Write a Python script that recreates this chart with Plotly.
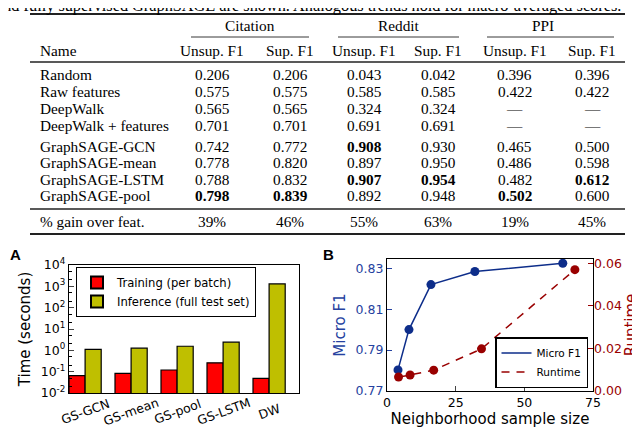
import plotly.graph_objects as go

# ---- table data ----
caption = "and fully supervised GraphSAGE are shown. Analogous trends hold for macro-averaged scores."
groups = ["Citation", "Reddit", "PPI"]
sub_headers = ["Unsup. F1", "Sup. F1", "Unsup. F1", "Sup. F1", "Unsup. F1", "Sup. F1"]
methods = ["Random", "Raw features", "DeepWalk", "DeepWalk + features",
           "GraphSAGE-GCN", "GraphSAGE-mean", "GraphSAGE-LSTM", "GraphSAGE-pool"]
scores = [
    [0.206, 0.206, 0.043, 0.042, 0.396, 0.396],
    [0.575, 0.575, 0.585, 0.585, 0.422, 0.422],
    [0.565, 0.565, 0.324, 0.324, None, None],
    [0.701, 0.701, 0.691, 0.691, None, None],
    [0.742, 0.772, 0.908, 0.930, 0.465, 0.500],
    [0.778, 0.820, 0.897, 0.950, 0.486, 0.598],
    [0.788, 0.832, 0.907, 0.954, 0.482, 0.612],
    [0.798, 0.839, 0.892, 0.948, 0.502, 0.600],
]
best = [(4, 2), (6, 2), (6, 3), (6, 5), (7, 0), (7, 1), (7, 4)]
gain_label = "% gain over feat."
gains = ["39%", "46%", "55%", "63%", "19%", "45%"]

# ---- panel A data ----
models = ["GS-GCN", "GS-mean", "GS-pool", "GS-LSTM", "DW"]
train_time = [0.065, 0.083, 0.12, 0.26, 0.049]
infer_time = [1.12, 1.26, 1.55, 2.4, 1300]
log_ticks = [0.01, 0.1, 1, 10, 100, 1000, 10000]
log_labels = ["10<sup>-2</sup>", "10<sup>-1</sup>", "10<sup>0</sup>", "10<sup>1</sup>",
              "10<sup>2</sup>", "10<sup>3</sup>", "10<sup>4</sup>"]

# ---- panel B data ----
sample_size = [4, 8, 16, 32, 64]
micro_f1 = [0.7803, 0.800, 0.822, 0.8284, 0.8324]
runtime_size = [4.2, 8.4, 17, 34.4, 68.4]
runtime = [0.0066, 0.0075, 0.0098, 0.0198, 0.057]

# page body has an 8px margin, so the figure fills the rest of the window
OFF = 8
W, H = 640 - OFF, 429 - OFF
BLUE = "#0d2d8a"
BLUE_TXT = "#2542a0"
RED = "#990000"
SERIF = "Liberation Serif"
SANS = "DejaVu Sans"


def px(x):
    # window pixel -> paper
    return (x - OFF) / W


def py(y):
    return 1 - (y - OFF) / H


fig = go.Figure()


def cell(text, x, y, anchor="center", size=15.3):
    fig.add_annotation(text=text, xref="paper", yref="paper", x=px(x), y=py(y),
                       xanchor=anchor, yanchor="middle", showarrow=False,
                       font=dict(family=SERIF, size=size, color="black"))


# ---------- table ----------
name_x = 38
col_x = [212, 290, 364, 438, 515, 592]
group_x = [250, 399, 543]
group_y, head_y = 25, 50
row_y = [75, 91.5, 108, 125, 146, 162.5, 179, 195.5]
gain_y = 221

for g, gx in zip(groups, group_x):
    cell(g, gx, group_y)
cell("Name", name_x, head_y, "left")
for h, cx in zip(sub_headers, col_x):
    cell(h, cx, head_y)
for i, m in enumerate(methods):
    cell(m, name_x, row_y[i], "left")
    for j, cx in enumerate(col_x):
        v = scores[i][j]
        s = "—" if v is None else f"{v:.3f}"
        if (i, j) in best:
            s = f"<b>{s}</b>"
        cell(s, cx, row_y[i])
cell(gain_label, name_x, gain_y, "left")
for g, cx in zip(gains, col_x):
    cell(g, cx, gain_y)

rules = [(30, 625, 14, 2.2), (30, 625, 62, 1.4), (30, 625, 209, 1.4), (30, 625, 234, 2.2),
         (191, 309, 37, 0.9), (338, 459, 37, 0.9), (487, 614, 37, 0.9)]
for x0, x1, y, w in rules:
    fig.add_shape(type="line", xref="paper", yref="paper",
                  x0=px(x0), x1=px(x1), y0=py(y), y1=py(y),
                  line=dict(color="#222222", width=w))

fig.add_annotation(text=caption, xref="paper", yref="paper", x=px(623), y=py(6),
                   xanchor="right", yanchor="middle", showarrow=False,
                   font=dict(family=SERIF, size=16.3, color="black"))

# ---------- panel A ----------
fig.add_trace(go.Bar(x=models, y=train_time, name="Training (per batch)",
                     marker=dict(color="#ff0000", line=dict(color="black", width=1.2)),
                     xaxis="x", yaxis="y", legend="legend"))
fig.add_trace(go.Bar(x=models, y=infer_time, name="Inference (full test set)",
                     marker=dict(color="#bfbf00", line=dict(color="black", width=1.2)),
                     xaxis="x", yaxis="y", legend="legend"))
for m in models:
    fig.add_annotation(text=m, xref="x", yref="paper", x=m, y=py(411),
                       xanchor="center", yanchor="middle", textangle=-20, showarrow=False,
                       font=dict(family=SANS, size=12.5, color="black"))

# ---------- panel B ----------
fig.add_trace(go.Scatter(x=sample_size, y=micro_f1, mode="lines", name="Micro F1",
                         line=dict(color=BLUE, width=1.5),
                         xaxis="x2", yaxis="y2", legend="legend2"))
fig.add_trace(go.Scatter(x=sample_size, y=micro_f1, mode="markers", showlegend=False,
                         marker=dict(color=BLUE, size=9), cliponaxis=False,
                         xaxis="x2", yaxis="y2"))
fig.add_trace(go.Scatter(x=runtime_size, y=runtime, mode="lines", name="Runtime",
                         line=dict(color=RED, width=1.5, dash="8px,7px"),
                         xaxis="x2", yaxis="y3", legend="legend2"))
fig.add_trace(go.Scatter(x=runtime_size, y=runtime, mode="markers", showlegend=False,
                         marker=dict(color=RED, size=9), cliponaxis=False,
                         xaxis="x2", yaxis="y3"))

for letter, x in [("A", 15), ("B", 328)]:
    fig.add_annotation(text=f"<b>{letter}</b>", xref="paper", yref="paper",
                       x=px(x), y=py(255), xanchor="center", yanchor="middle",
                       showarrow=False,
                       font=dict(family="Liberation Sans", size=15, color="black"))

frame = dict(showline=True, linecolor="black", linewidth=1.3, mirror=True,
             showgrid=False, zeroline=False, automargin=False)

fig.update_layout(
    width=W, height=H, margin=dict(l=0, r=0, t=0, b=0, autoexpand=False),
    paper_bgcolor="white", plot_bgcolor="rgba(0,0,0,0)",
    barmode="group", bargap=0.3, bargroupgap=0,
    font=dict(family=SANS, size=12, color="black"),
    xaxis=dict(domain=[px(69), px(299)], range=[-0.35, 4.65],
               showticklabels=False, ticks="", **frame),
    yaxis=dict(domain=[py(393), py(265)], type="log", range=[-2, 4],
               tickvals=log_ticks, ticktext=log_labels, ticks="inside", ticklen=5,
               tickfont=dict(size=12.5),
               minor=dict(ticks="inside", ticklen=2.5, tickcolor="black", showgrid=False),
               title=dict(text="Time (seconds)", font=dict(size=15), standoff=6),
               **frame),
    xaxis2=dict(domain=[px(387), px(593)], range=[0, 75], tickvals=[0, 25, 50, 75],
                ticks="inside", ticklen=5, anchor="y2", tickfont=dict(size=12.5),
                title=dict(text="Neighborhood sample size", font=dict(size=15), standoff=4),
                **frame),
    yaxis2=dict(domain=[py(391), py(259)], range=[0.77, 0.8345], anchor="x2",
                tickvals=[0.77, 0.79, 0.81, 0.83], tickformat=".2f",
                ticks="inside", ticklen=5, tickcolor=BLUE_TXT,
                tickfont=dict(size=12.5, color=BLUE_TXT),
                title=dict(text="Micro F1", font=dict(size=15, color=BLUE_TXT), standoff=6),
                **frame),
    yaxis3=dict(overlaying="y2", side="right", anchor="x2", range=[0, 0.062],
                tickvals=[0, 0.02, 0.04, 0.06], tickformat=".2f",
                ticks="inside", ticklen=5, tickcolor=RED,
                tickfont=dict(size=12.5, color=RED),
                title=dict(text="Runtime", font=dict(size=15, color=RED), standoff=6),
                showgrid=False, zeroline=False, showline=False, automargin=False),
    legend=dict(x=px(76), y=py(267), xanchor="left", yanchor="top",
                bgcolor="white", bordercolor="black", borderwidth=1,
                font=dict(size=11.6), tracegroupgap=0, itemsizing="constant"),
    legend2=dict(x=px(588), y=py(388), xanchor="right", yanchor="bottom",
                 bgcolor="white", bordercolor="black", borderwidth=1.5,
                 font=dict(size=10.5), tracegroupgap=0),
)

fig.write_html("out.html")
